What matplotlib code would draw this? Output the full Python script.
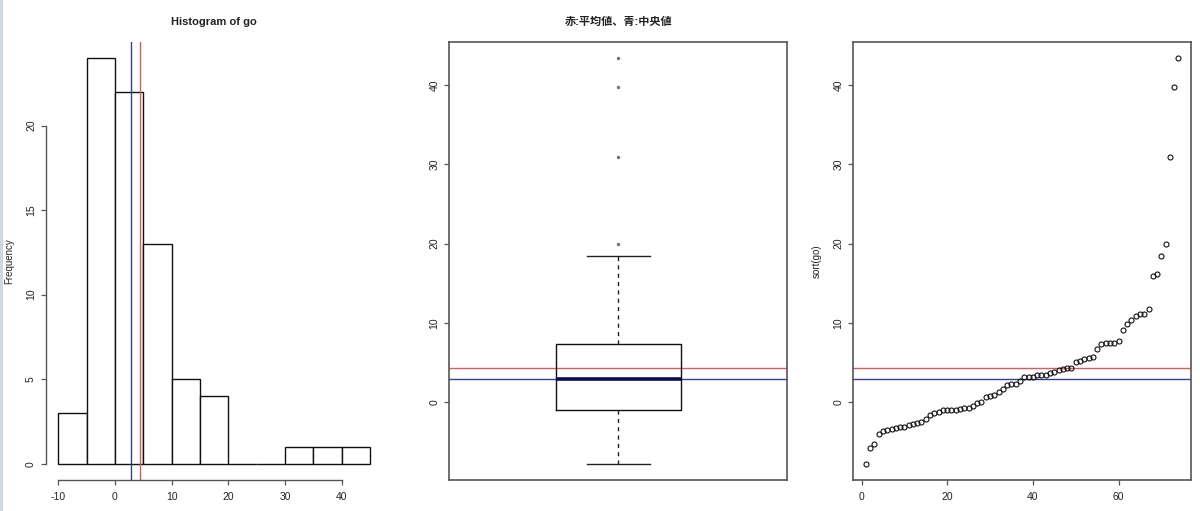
import numpy as np
import matplotlib
matplotlib.use("Agg")
import matplotlib.pyplot as plt
from matplotlib.patches import Rectangle

plt.rcParams['font.family'] = ['Liberation Sans', 'Noto Sans CJK JP', 'DejaVu Sans']
plt.rcParams['axes.unicode_minus'] = False

# ---- data (sorted values of "go") ----
go = [-7.8, -5.76, -5.3, -4.0, -3.6, -3.5, -3.4, -3.3, -3.2, -3.1,
      -2.9, -2.75, -2.6, -2.5, -2.1, -1.65, -1.35, -1.2, -1.05, -1.05,
      -1.0, -1.0, -0.85, -0.75, -0.75, -0.55, -0.1, 0.05, 0.6, 0.75,
      0.9, 1.3, 1.7, 2.2, 2.3, 2.3, 2.6, 3.2, 3.2, 3.2,
      3.35, 3.4, 3.4, 3.6, 3.8, 4.1, 4.2, 4.3, 4.3, 5.1,
      5.15, 5.4, 5.55, 5.7, 6.75, 7.3, 7.4, 7.4, 7.5, 7.7,
      9.15, 9.9, 10.4, 10.9, 11.1, 11.15, 11.7, 15.9, 16.2, 18.45,
      19.9, 31.0, 39.8, 43.45]
hist_breaks = [-10, -5, 0, 5, 10, 15, 20, 25, 30, 35, 40, 45]
hist_xticks = [-10, 0, 10, 20, 30, 40]
hist_yticks = [0, 5, 10, 15, 20]
val_yticks = [0, 10, 20, 30, 40]
idx_xticks = [0, 20, 40, 60]
title_hist = "Histogram of go"
title_box = "赤:平均値、青:中央値"
ylab_hist = "Frequency"
ylab_sort = "sort(go)"

x = np.array(go)
n = len(x)
mean_v = x.mean()
med_v = np.median(x)

RED = '#e05858'
BLUE = '#3a3a9a'
AXC = '#555555'
TXT = '#222222'
W, H = 1200, 511

fig = plt.figure(figsize=(W / 100, H / 100), dpi=100)
fig.patch.set_facecolor('white')
# light blue stripe at left edge (screen capture border)
fig.add_artist(Rectangle((0, 0), 3 / W, 1, transform=fig.transFigure,
                         facecolor='#c9d9ea', edgecolor='none'))

top, bot = 41.7, 480.0


def mkax(x0, x1):
    return fig.add_axes([x0 / W, 1 - bot / H, (x1 - x0) / W, (bot - top) / H])


def rext(lo, hi):
    p = 0.04 * (hi - lo)
    return lo - p, hi + p


def style_ticks(ax):
    ax.tick_params(axis='both', direction='out', length=3.6, width=0.9,
                   color=AXC, labelsize=7.5, labelcolor=TXT)
    ax.tick_params(axis='x', pad=5)
    ax.tick_params(axis='y', pad=3.5)
    for lab in ax.get_yticklabels():
        lab.set_rotation(90)
        lab.set_va('center')


# ---------------- histogram ----------------
x0h, x1h = 45.8, 382.5
ax1 = mkax(x0h, x1h)
counts, edges, _ = ax1.hist(x, bins=hist_breaks, color='white',
                            edgecolor='#111111', linewidth=1.0)
ax1.set_xlim(*rext(hist_breaks[0], hist_breaks[-1]))
ax1.set_ylim(*rext(0, counts.max()))
ax1.axvline(mean_v, color=RED, lw=1.0)
ax1.axvline(med_v, color=BLUE, lw=1.0)
for s in ['top', 'right']:
    ax1.spines[s].set_visible(False)
for s in ['left', 'bottom']:
    ax1.spines[s].set_color(AXC)
    ax1.spines[s].set_linewidth(1.0)
ax1.spines['left'].set_bounds(hist_yticks[0], hist_yticks[-1])
ax1.spines['bottom'].set_bounds(hist_xticks[0], hist_xticks[-1])
ax1.set_xticks(hist_xticks)
ax1.set_yticks(hist_yticks)
style_ticks(ax1)
ax1.set_ylabel(ylab_hist, fontsize=7, color=TXT)
ax1.yaxis.set_label_coords((14 - x0h) / (x1h - x0h), 0.5)

# ---------------- boxplot ----------------
ax2 = mkax(449.3, 787.3)
xs = np.sort(x)
n4 = np.floor((n + 3) / 2) / 2
d = np.array([1, n4, (n + 1) / 2, n + 1 - n4, n])
five = 0.5 * (xs[np.floor(d).astype(int) - 1] + xs[np.ceil(d).astype(int) - 1])
q1, q2, q3 = five[1], five[2], five[3]
iqr = q3 - q1
lo_f, hi_f = q1 - 1.5 * iqr, q3 + 1.5 * iqr
inside = xs[(xs >= lo_f) & (xs <= hi_f)]
stats = [dict(med=q2, q1=q1, q3=q3, whislo=inside.min(), whishi=inside.max(),
              fliers=xs[(xs < lo_f) | (xs > hi_f)])]
ax2.bxp(stats, positions=[1], widths=0.4, capwidths=0.2,
        boxprops=dict(color='#111111', lw=1.0),
        whiskerprops=dict(color='#222222', lw=1.0, linestyle=(0, (3, 3))),
        capprops=dict(color='#222222', lw=1.0),
        medianprops=dict(color='#0a0a5a', lw=2.6),
        flierprops=dict(marker='o', markersize=1.5, markerfacecolor='#777777',
                        markeredgecolor='#777777'))
ax2.set_xlim(*rext(0.5, 1.5))
ax2.set_ylim(*rext(xs.min(), xs.max()))
ax2.axhline(mean_v, color=RED, lw=1.0, zorder=1)
ax2.axhline(med_v, color=BLUE, lw=1.0, zorder=1)
ax2.set_xticks([])
ax2.set_yticks(val_yticks)
for s in ax2.spines.values():
    s.set_color(AXC)
    s.set_linewidth(1.2)
style_ticks(ax2)

# ---------------- sorted index plot ----------------
x0s, x1s = 853.3, 1191.0
ax3 = mkax(x0s, x1s)
idx = np.arange(1, n + 1)
ax3.plot(idx, xs, linestyle='none', marker='o', markersize=3.6,
         markerfacecolor='none', markeredgecolor='#111111', markeredgewidth=0.8)
ax3.set_xlim(*rext(1, n))
ax3.set_ylim(*rext(xs.min(), xs.max()))
ax3.axhline(mean_v, color=RED, lw=1.0, zorder=1)
ax3.axhline(med_v, color=BLUE, lw=1.0, zorder=1)
ax3.set_xticks(idx_xticks)
ax3.set_yticks(val_yticks)
for s in ax3.spines.values():
    s.set_color(AXC)
    s.set_linewidth(1.2)
style_ticks(ax3)
ax3.set_ylabel(ylab_sort, fontsize=7, color=TXT)
ax3.yaxis.set_label_coords((822 - x0s) / (x1s - x0s), 0.5)

# titles
fig.text((x0h + x1h) / 2 / W, 1 - 22 / H, title_hist, ha='center',
         va='center', fontsize=8, fontweight='bold', color=TXT)
fig.text((449.3 + 787.3) / 2 / W, 1 - 22 / H, title_box, ha='center',
         va='center', fontsize=8, fontweight='bold', color=TXT)

fig.savefig('out.png', dpi=100, facecolor='white')
